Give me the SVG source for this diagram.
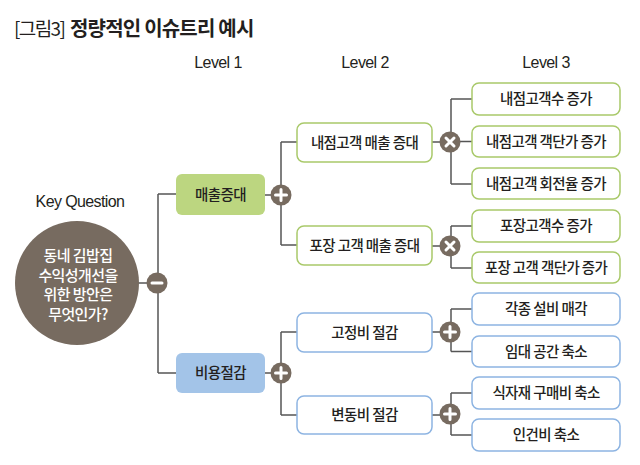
<svg xmlns="http://www.w3.org/2000/svg" width="640" height="465" viewBox="0 0 640 465">
<style>
.t{font-family:"Noto Sans CJK KR","Noto Sans",sans-serif;fill:#231f20}
.lv{font-family:"Liberation Sans","Noto Sans",sans-serif;font-size:16px;fill:#231f20;text-anchor:middle;letter-spacing:-0.6px}
.bx{font-family:"Noto Sans CJK KR",sans-serif;font-size:14.5px;fill:#231f20;text-anchor:middle;font-weight:500;letter-spacing:-0.6px}
.g{fill:#fff;stroke:#a9c96a;stroke-width:1.5}
.b{fill:#fff;stroke:#8db4e2;stroke-width:1.5}
.ln{fill:none;stroke:#555;stroke-width:1.5}
.op{fill:#776b60}
.sym{stroke:#fff;stroke-width:3;stroke-linecap:round}
.kq{font-family:"Noto Sans CJK KR",sans-serif;font-size:15px;font-weight:500;fill:#fff;text-anchor:middle;letter-spacing:-0.6px}
</style>
<defs>
<g id="plus"><circle r="10.5" class="op"/><path d="M-5.5 0H5.5M0 -5.5V5.5" class="sym"/></g>
<g id="times"><circle r="10.5" class="op"/><path d="M-4 -4L4 4M4 -4L-4 4" class="sym"/></g>
<g id="minus"><circle r="10.5" class="op"/><path d="M-5 0H5" class="sym"/></g>
</defs>
<g id="title">
<text x="14" y="36" class="t" font-size="19" font-weight="400" letter-spacing="-1.6">[그림3]</text>
<text x="70" y="36" class="t" font-size="20" font-weight="700" letter-spacing="-0.8">정량적인 이슈트리 예시</text>
</g>
<g id="levels">
<text x="218" y="68" class="lv">Level 1</text>
<text x="365" y="68" class="lv">Level 2</text>
<text x="546" y="68" class="lv">Level 3</text>
<text x="80" y="207" class="lv">Key Question</text>
</g>
<g id="connectors">
<path class="ln" d="M138 283H158M158 194V373M158 194H176M158 373H176"/>
<path class="ln" d="M265 195H281M281 142V245M281 142H297M281 245H297"/>
<path class="ln" d="M265 373H281M281 332V415M281 332H297M281 415H297"/>
<path class="ln" d="M432 142H451M451 99V184M451 99H472M451 141.5H472M451 184H472"/>
<path class="ln" d="M432 246H451M451 226V268M451 226H472M451 268H472"/>
<path class="ln" d="M432 332H451M451 309V351.5M451 309H472M451 351.5H472"/>
<path class="ln" d="M432 415H451M451 393V435M451 393H472M451 435H472"/>
<use href="#minus" x="157" y="283"/>
<use href="#plus" x="281" y="195"/>
<use href="#plus" x="281" y="373"/>
<use href="#times" x="450" y="142"/>
<use href="#times" x="450" y="246"/>
<use href="#plus" x="450" y="332"/>
<use href="#plus" x="450" y="414"/>
</g>
<g id="kq">
<circle cx="77" cy="283" r="62" fill="#776b60"/>
<text class="kq"><tspan x="78" y="261">동네 김밥집</tspan><tspan x="78" y="280.5">수익성개선을</tspan><tspan x="78" y="300">위한 방안은</tspan><tspan x="78" y="319.5">무엇인가?</tspan></text>
</g>
<g id="n-sales"><rect x="176" y="174" width="89" height="41" rx="6" fill="#bcd680"/><text x="220.5" y="200" class="bx">매출증대</text></g>
<g id="n-cost"><rect x="176" y="353" width="89" height="40" rx="6" fill="#a3c4e8"/><text x="220.5" y="378" class="bx">비용절감</text></g>
<g id="n-l2a"><rect x="297" y="123" width="135" height="39" rx="7" class="g"/><text x="364.5" y="147.5" class="bx">내점고객 매출 증대</text></g>
<g id="n-l2b"><rect x="297" y="226" width="135" height="39" rx="7" class="g"/><text x="364.5" y="250.5" class="bx">포장 고객 매출 증대</text></g>
<g id="n-l2c"><rect x="297" y="313" width="135" height="39" rx="7" class="b"/><text x="364.5" y="337.5" class="bx">고정비 절감</text></g>
<g id="n-l2d"><rect x="297" y="396" width="135" height="38" rx="7" class="b"/><text x="364.5" y="420" class="bx">변동비 절감</text></g>
<g id="n-l3a"><rect x="472" y="83" width="148" height="32" rx="7" class="g"/><text x="546" y="104" class="bx">내점고객수 증가</text></g>
<g id="n-l3b"><rect x="472" y="126" width="148" height="31" rx="7" class="g"/><text x="546" y="146.5" class="bx">내점고객 객단가 증가</text></g>
<g id="n-l3c"><rect x="472" y="168" width="148" height="31" rx="7" class="g"/><text x="546" y="188.5" class="bx">내점고객 회전율 증가</text></g>
<g id="n-l3d"><rect x="472" y="210" width="148" height="32" rx="7" class="g"/><text x="546" y="231" class="bx">포장고객수 증가</text></g>
<g id="n-l3e"><rect x="472" y="252" width="148" height="31" rx="7" class="g"/><text x="546" y="272.5" class="bx">포장 고객 객단가 증가</text></g>
<g id="n-l3f"><rect x="472" y="293" width="148" height="32" rx="7" class="b"/><text x="546" y="314" class="bx">각종 설비 매각</text></g>
<g id="n-l3g"><rect x="472" y="336" width="148" height="31" rx="7" class="b"/><text x="546" y="356.5" class="bx">임대 공간 축소</text></g>
<g id="n-l3h"><rect x="472" y="377" width="148" height="32" rx="7" class="b"/><text x="546" y="398" class="bx">식자재 구매비 축소</text></g>
<g id="n-l3i"><rect x="472" y="419" width="148" height="32" rx="7" class="b"/><text x="546" y="440" class="bx">인건비 축소</text></g>
</svg>
